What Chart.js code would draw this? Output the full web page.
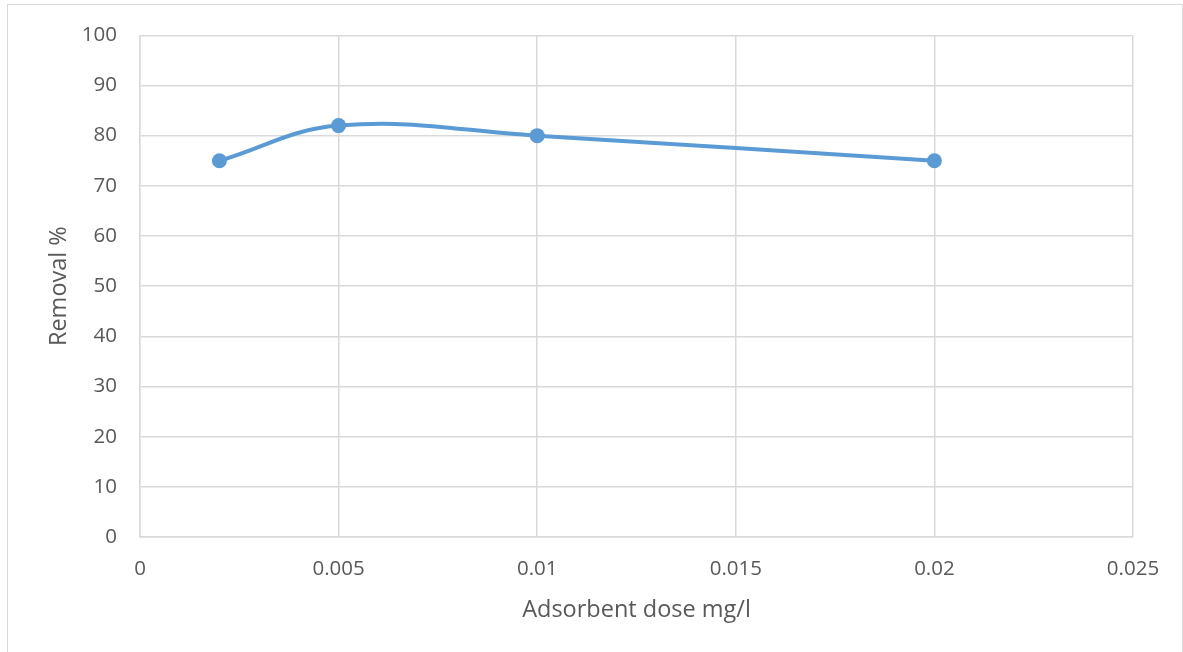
<!DOCTYPE html>
<html><head><meta charset="utf-8">
<script src="https://cdn.jsdelivr.net/npm/chart.js@4"></script>
<style>html,body{margin:0;padding:0;background:#fff}#wrap{width:1183px;height:652px;position:relative}</style>
</head><body><div id="wrap"><canvas id="c" width="1183" height="652"></canvas></div>
<script>
const doses = [0.002, 0.005, 0.01, 0.02];
const removal = [75, 82, 80, 75];
const xTicks = [0, 0.005, 0.01, 0.015, 0.02, 0.025];
const yTicks = [0, 10, 20, 30, 40, 50, 60, 70, 80, 90, 100];
const xTitle = 'Adsorbent dose mg/l';
const yTitle = 'Removal %';

const FONT = '"Open Sans", "Liberation Sans", sans-serif';
const TXT = '#595959';
const GRID = '#d9d9d9';

const border = {
  id: 'outerBorder',
  beforeDraw(chart) {
    const ctx = chart.ctx;
    ctx.save();
    ctx.fillStyle = '#fff';
    ctx.fillRect(0, 0, chart.width, chart.height);
    ctx.strokeStyle = GRID;
    ctx.lineWidth = 1;
    ctx.strokeRect(7.5, 4.5, 1175, 700);
    ctx.restore();
  }
};

new Chart(document.getElementById('c'), {
  type: 'scatter',
  data: {
    datasets: [{
      data: doses.map((d, i) => ({x: d, y: removal[i]})),
      showLine: true,
      borderColor: '#5b9bd5',
      backgroundColor: '#5b9bd5',
      borderWidth: 4,
      pointRadius: 7.5,
      pointBorderWidth: 0,
      tension: 0.4,
      cubicInterpolationMode: 'default'
    }]
  },
  options: {
    responsive: false,
    animation: false,
    devicePixelRatio: 1,
    layout: {padding: {left: 0, top: 33, right: 50, bottom: 0}},
    plugins: {legend: {display: false}, tooltip: {enabled: false}},
    scales: {
      x: {
        type: 'linear', min: 0, max: 0.025,
        afterBuildTicks: s => { s.ticks = xTicks.map(v => ({value: v})); },
        afterFit: s => { s.height = 115; },
        grid: {color: GRID, lineWidth: 1.5, drawTicks: false},
        border: {color: GRID, width: 1.5},
        ticks: {color: TXT, font: {family: FONT, size: 20.5}, padding: 20, maxRotation: 0,
                callback: v => String(v)},
        title: {display: true, text: xTitle, color: TXT, font: {family: FONT, size: 23.5},
                padding: {top: 0, bottom: 28}}
      },
      y: {
        type: 'linear', min: 0, max: 100,
        afterBuildTicks: s => { s.ticks = yTicks.map(v => ({value: v})); },
        afterFit: s => { s.width = 140; },
        grid: {color: GRID, lineWidth: 1.5, drawTicks: false},
        border: {color: GRID, width: 1.5},
        ticks: {color: TXT, font: {family: FONT, size: 20.5}, padding: 23},
        title: {display: true, text: yTitle, color: TXT, font: {family: FONT, size: 23.5},
                padding: {top: 45, bottom: 0}}
      }
    }
  },
  plugins: [border]
});
</script></body></html>
